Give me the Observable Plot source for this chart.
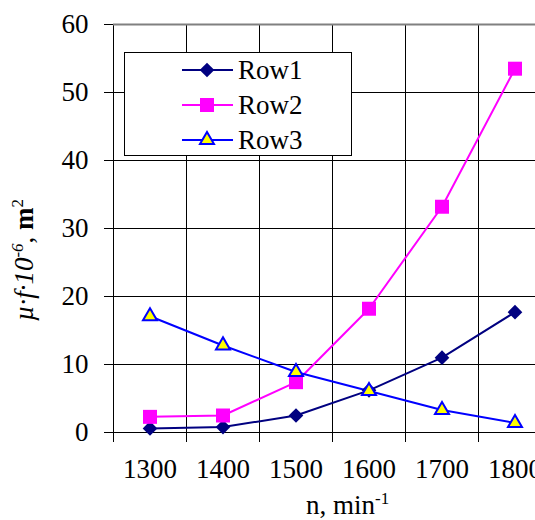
<!DOCTYPE html>
<html><head><meta charset="utf-8">
<script src="https://cdn.jsdelivr.net/npm/d3@7"></script>
<script src="https://cdn.jsdelivr.net/npm/@observablehq/plot@0.6"></script>
<style>html,body{margin:0;padding:0;background:#fff;overflow:hidden}</style>
</head><body><div id="chart"></div>
<script>
const categories = [1300, 1400, 1500, 1600, 1700, 1800];
const boundaries = [1250, 1350, 1450, 1550, 1650, 1750];
const yTicks = [0, 10, 20, 30, 40, 50, 60];
const seriesNames = ["Row1", "Row2", "Row3"];
const row1 = [0.6, 0.8, 2.5, 6.2, 11.0, 17.7];
const row2 = [2.3, 2.5, 7.4, 18.2, 33.2, 53.5];
const row3 = [17.1, 12.8, 8.9, 6.1, 3.3, 1.4];
const yTitle = ["µ·f·10", "-6", ", ", "m", "2"];
const xTitle = ["n, min", "-1"];

const values = [row1, row2, row3];
const table = seriesNames.flatMap((name, i) => categories.map((c, j) => ({series: name, n: c, v: values[i][j]})));
const styles = {
  Row1: {line: "#000080", fill: "#000080", stroke: "none", symbol: "diamond2", r: 6.6, d3sym: d3.symbolDiamond2},
  Row2: {line: "#FF00FF", fill: "#FF00FF", stroke: "none", symbol: "square", r: 7.9, d3sym: d3.symbolSquare},
  Row3: {line: "#0000FF", fill: "#FFFF00", stroke: "#0000FF", symbol: "triangle", r: 5.2, d3sym: d3.symbolTriangle}
};
const font = "'Liberation Serif', 'Times New Roman', serif";
const fs = 27;

const marks = [
  Plot.ruleX(boundaries, {stroke: "black", strokeWidth: 1}),
  Plot.ruleY(yTicks.filter(d => d < 60), {stroke: "black", strokeWidth: 1}),
  Plot.ruleY([60], {stroke: "#808080", strokeWidth: 2}),
  Plot.axisY({ticks: yTicks, tickSize: 9, tickPadding: 16, label: null, tickFormat: d => String(d)}),
  Plot.axisX({ticks: boundaries, tickSize: 10, tickFormat: () => "", label: null}),
  Plot.axisX({ticks: categories, tickSize: 0, tickPadding: 26, tickFormat: d => String(d), label: null})
];
for (const name of seriesNames) {
  const s = styles[name];
  const data = table.filter(d => d.series === name);
  marks.push(Plot.line(data, {x: "n", y: "v", stroke: s.line, strokeWidth: 2}));
}
for (const name of seriesNames) {
  const s = styles[name];
  const data = table.filter(d => d.series === name);
  marks.push(Plot.dot(data, {x: "n", y: "v", symbol: () => s.symbol, r: s.r, fill: s.fill,
    stroke: s.stroke === "none" ? null : s.stroke, strokeWidth: 2}));
}

const plot = Plot.plot({
  width: 535, height: 520,
  marginLeft: 113, marginTop: 24, marginBottom: 88, marginRight: 0,
  style: {fontFamily: font, fontSize: fs + "px", background: "white", color: "black", overflow: "hidden"},
  x: {type: "linear", domain: [1250, 1850], range: [113, 551]},
  y: {type: "linear", domain: [0, 60], range: [432, 24]},
  symbol: {type: "identity"},
  marks
});
document.getElementById("chart").appendChild(plot);

const svg = d3.select(plot);
// legend
const lg = svg.append("g").attr("font-family", font).attr("font-size", fs).attr("text-anchor", "start");
lg.append("rect").attr("x", 124.5).attr("y", 52.5).attr("width", 227).attr("height", 103)
  .attr("fill", "white").attr("stroke", "black").attr("stroke-width", 1);
seriesNames.forEach((name, i) => {
  const s = styles[name];
  const cy = 70 + i * 35;
  lg.append("line").attr("x1", 182).attr("x2", 233).attr("y1", cy).attr("y2", cy)
    .attr("stroke", s.line).attr("stroke-width", 2);
  lg.append("path").attr("transform", `translate(207,${cy})`)
    .attr("d", d3.symbol(s.d3sym, Math.PI * s.r * s.r)())
    .attr("fill", s.fill).attr("stroke", s.stroke).attr("stroke-width", 2);
  lg.append("text").attr("x", 238).attr("y", cy).attr("dy", "0.35em").attr("fill", "black").text(name);
});
// y title
const yt = svg.append("text").attr("transform", "translate(33,260) rotate(-90)")
  .attr("text-anchor", "middle").attr("font-family", font).attr("font-size", fs).attr("fill", "black");
yt.append("tspan").attr("font-style", "italic").text(yTitle[0]);
yt.append("tspan").attr("font-style", "italic").attr("font-size", 17).attr("dy", -10).text(yTitle[1]);
yt.append("tspan").attr("dy", 10).text(yTitle[2]);
yt.append("tspan").attr("font-weight", "bold").text(yTitle[3]);
yt.append("tspan").attr("font-size", 17).attr("dy", -10).text(yTitle[4]);
// x title
const xt = svg.append("text").attr("x", 306).attr("y", 514).attr("text-anchor", "start")
  .attr("font-family", font).attr("font-size", fs).attr("fill", "black");
xt.append("tspan").text(xTitle[0]);
xt.append("tspan").attr("font-size", 17).attr("dy", -10).text(xTitle[1]);
</script>
</body></html>
